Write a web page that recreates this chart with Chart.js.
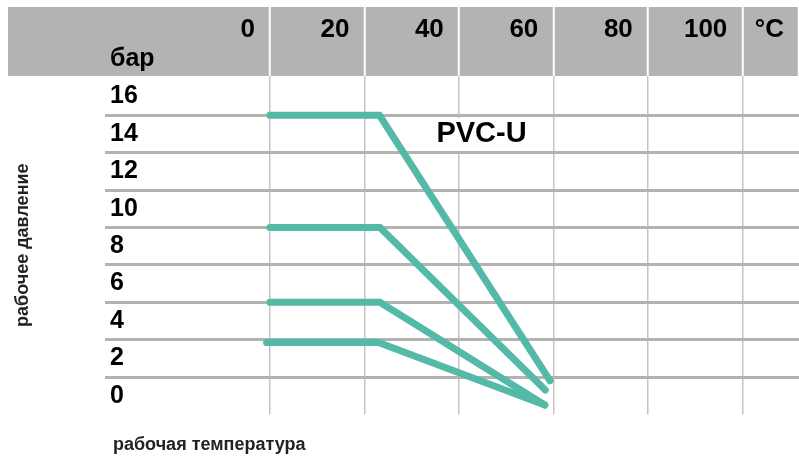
<!DOCTYPE html>
<html>
<head>
<meta charset="utf-8">
<script src="https://cdn.jsdelivr.net/npm/chart.js@4/dist/chart.umd.min.js"></script>
<style>
  body { margin: 0; background: #fff; }
  #wrap { width: 799px; height: 458px; }
</style>
</head>
<body>
<div id="wrap"><canvas id="ptChart"></canvas></div>
<script>
// temperature (°C) / pressure (bar)
var tempPN16 = [0, 23.2, 59.3];
var presPN16 = [16, 16, 1.8];
var tempPN10 = [0, 23.3, 58.3];
var presPN10 = [10, 10, 1.3];
var tempPN6 = [0, 23.3, 58.2];
var presPN6 = [6, 6, 0.5];
var tempPN4 = [-0.7, 23, 58.2];
var presPN4 = [3.85, 3.85, 0.5];

var xTicks = [0, 20, 40, 60, 80, 100];
var yTicks = [0, 2, 4, 6, 8, 10, 12, 14, 16];
var xMin = -33.2, xMax = 112;
var yMax = 18.1, yUnitAt = 18;

var curveColor = '#55b9a7';
var fontFam = '"Liberation Sans", Arial, sans-serif';

function pts(t, p) {
  return t.map(function (v, i) { return { x: v, y: p[i] }; });
}

function ds(label, t, p) {
  return {
    label: label,
    data: pts(t, p),
    borderColor: curveColor,
    borderWidth: 7,
    borderCapStyle: 'round',
    borderJoinStyle: 'miter',
    pointRadius: 0,
    tension: 0,
    fill: false,
    clip: false
  };
}

// grey header band behind the top axis
var headerBand = {
  id: 'headerBand',
  beforeDraw: function (chart) {
    var x = chart.scales.x, c = chart.ctx;
    c.save();
    c.fillStyle = '#b3b3b3';
    c.fillRect(8, x.top, chart.width - 8, x.bottom - x.top);
    c.restore();
  }
};

// "PVC-U" label on a white box
var pvcLabel = {
  id: 'pvcLabel',
  beforeDatasetsDraw: function (chart) {
    var c = chart.ctx;
    var px = chart.scales.x.getPixelForValue(44.8);
    var py = chart.scales.y.getPixelForValue(15);
    c.save();
    c.fillStyle = '#fff';
    c.fillRect(px - 54, py - 16, 108, 33);
    c.font = 'bold 29px ' + fontFam;
    c.fillStyle = '#000';
    c.textAlign = 'center';
    c.textBaseline = 'middle';
    c.fillText('PVC-U', px, py);
    c.restore();
  }
};

var ptChart = new Chart(document.getElementById('ptChart').getContext('2d'), {
  type: 'line',
  data: {
    datasets: [
      ds('PN16', tempPN16, presPN16),
      ds('PN10', tempPN10, presPN10),
      ds('PN6', tempPN6, presPN6),
      ds('PN4', tempPN4, presPN4)
    ]
  },
  options: {
    responsive: true,
    maintainAspectRatio: false,
    animation: false,
    layout: { padding: { left: 0, top: 7, right: 0, bottom: 0 } },
    plugins: { legend: { display: false }, tooltip: { enabled: false } },
    scales: {
      x: {
        type: 'linear',
        position: 'top',
        min: xMin,
        max: xMax,
        afterBuildTicks: function (s) {
          s.ticks = xTicks.concat([xMax]).map(function (v) { return { value: v }; });
        },
        afterFit: function (s) { s.height = 69; },
        border: { display: false },
        grid: {
          color: function (ctx) { return ctx.tick && ctx.tick.value <= 100 ? '#c4c4c4' : 'rgba(0,0,0,0)'; },
          lineWidth: 1.5,
          drawTicks: true,
          tickLength: 69,
          tickColor: '#ffffff',
          tickWidth: 2
        },
        ticks: {
          align: 'end',
          labelOffset: -15,
          padding: -38,
          maxRotation: 0,
          autoSkip: false,
          color: '#000',
          font: { family: fontFam, size: 26, weight: 'bold' },
          callback: function (v) { return v === xMax ? '°C' : v; }
        }
      },
      xb: {
        type: 'linear',
        position: 'bottom',
        display: true,
        afterFit: function (s) { s.height = 43.6; },
        border: { display: false },
        grid: { display: false },
        ticks: { display: false },
        title: {
          display: true,
          text: 'рабочая температура',
          align: 'start',
          color: '#222',
          font: { family: fontFam, size: 18, weight: 'bold' },
          padding: { top: 0, bottom: 1.8 }
        }
      },
      y: {
        type: 'linear',
        position: 'left',
        min: 0,
        max: yMax,
        afterBuildTicks: function (s) {
          s.ticks = yTicks.concat([yUnitAt]).map(function (v) { return { value: v }; });
        },
        afterFit: function (s) { s.width = 113; },
        border: { display: false },
        grid: {
          color: function (ctx) {
            var v = ctx.tick ? ctx.tick.value : 0;
            return v > 0 && v <= 16 ? '#b3b3b3' : 'rgba(0,0,0,0)';
          },
          tickColor: function (ctx) {
            var v = ctx.tick ? ctx.tick.value : 0;
            return v > 0 && v <= 16 ? '#b3b3b3' : 'rgba(0,0,0,0)';
          },
          lineWidth: 3,
          tickWidth: 3,
          drawTicks: true,
          tickLength: 8
        },
        ticks: {
          mirror: true,
          padding: -3,
          labelOffset: -18.7,
          autoSkip: false,
          color: '#000',
          font: { family: fontFam, size: 25, weight: 'bold' },
          callback: function (v) { return v === yUnitAt ? 'бар' : v; }
        },
        title: {
          display: true,
          text: 'рабочее давление',
          color: '#222',
          font: { family: fontFam, size: 18, weight: 'bold' },
          padding: { top: 12, bottom: 0 }
        }
      }
    }
  },
  plugins: [headerBand, pvcLabel]
});
</script>
</body>
</html>
